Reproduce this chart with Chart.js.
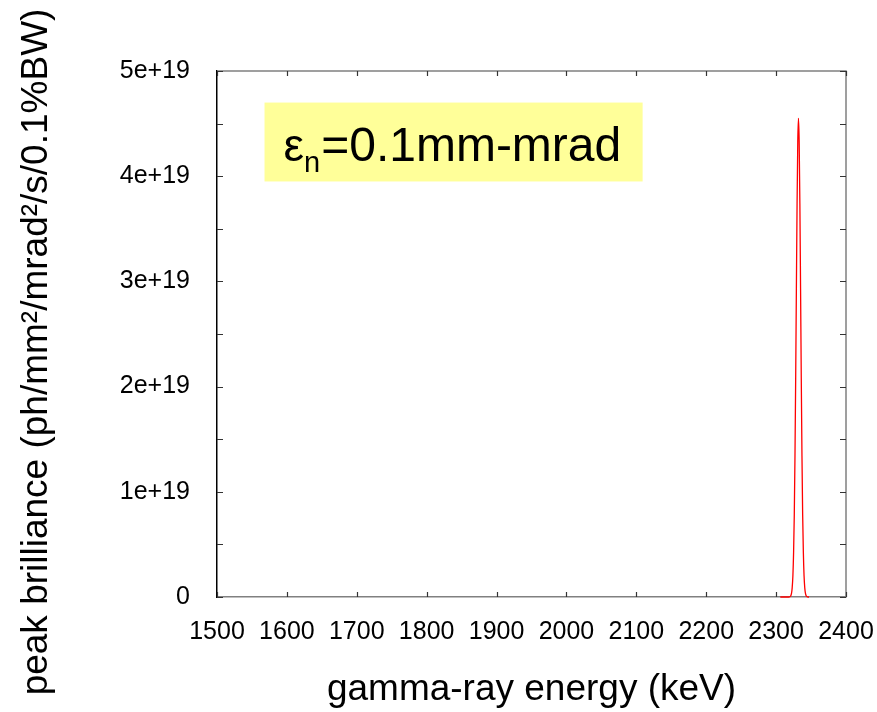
<!DOCTYPE html>
<html>
<head>
<meta charset="utf-8">
<script src="https://cdn.jsdelivr.net/npm/chart.js@4"></script>
<style>
  body { margin: 0; background: #fff; }
  #wrap { width: 877px; height: 712px; }
</style>
</head>
<body>
<div id="wrap"><canvas id="myChart" width="877" height="712"></canvas></div>
<script>
// gamma-ray energy (keV) and peak brilliance
const energy = [
  2306, 2307, 2308, 2309, 2310, 2311, 2312, 2313, 2314, 2315, 2316, 2317, 2318,
  2319, 2320, 2321, 2322, 2323, 2324, 2325, 2326, 2327, 2328, 2329, 2330, 2331,
  2332, 2333, 2334, 2335, 2336, 2337, 2338, 2339, 2340, 2341, 2342, 2343, 2344,
  2345, 2346, 2347
]
const brilliance = [
  0, 0, 0, 0, 0, 0, 0, 0, 0, 0, 0, 0, 0,
  0.001e19, 0.004e19, 0.012e19, 0.034e19, 0.087e19, 0.20e19, 0.42e19, 0.78e19, 1.34e19, 2.08e19, 2.93e19, 3.74e19, 4.33e19,
  4.55e19, 4.33e19, 3.74e19, 2.93e19, 2.08e19, 1.34e19, 0.78e19, 0.42e19, 0.20e19, 0.087e19, 0.034e19, 0.012e19, 0.004e19,
  0.001e19, 0, 0
]
const xTicks = [1500, 1600, 1700, 1800, 1900, 2000, 2100, 2200, 2300, 2400]
const yTicks = [0, 1e19, 2e19, 3e19, 4e19, 5e19]
const yTickLabels = ['0', '1e+19', '2e+19', '3e+19', '4e+19', '5e+19']
const yMinorTicks = [0.5e19, 1.5e19, 2.5e19, 3.5e19, 4.5e19]
const yTitle = 'peak brilliance (ph/mm²/mrad²/s/0.1%BW)'

const FONT = "'Liberation Sans', Arial, sans-serif"

// frame on top/right plus inward tick marks, gnuplot style
const framePlugin = {
  id: 'frame',
  afterDraw (chart) {
    const { ctx, chartArea: a, scales: { x, y } } = chart
    ctx.save()
    ctx.lineWidth = 1.5
    ctx.strokeStyle = '#808080'
    ctx.beginPath()
    ctx.moveTo(a.left, a.top); ctx.lineTo(a.right, a.top); ctx.lineTo(a.right, a.bottom)
    ctx.stroke()
    ctx.strokeStyle = '#333'
    ctx.lineWidth = 1.2
    ctx.beginPath()
    xTicks.forEach(v => {
      const px = Math.round(x.getPixelForValue(v)) + 0.5
      ctx.moveTo(px, a.bottom); ctx.lineTo(px, a.bottom - 5)
      ctx.moveTo(px, a.top); ctx.lineTo(px, a.top + 5)
    })
    yTicks.concat(yMinorTicks).forEach(v => {
      const py = Math.round(y.getPixelForValue(v)) + 0.5
      ctx.moveTo(a.left, py); ctx.lineTo(a.left + 6, py)
      ctx.moveTo(a.right, py); ctx.lineTo(a.right - 6, py)
    })
    ctx.stroke()

    // y title: longer than the axis itself, so centred on the whole canvas
    ctx.fillStyle = '#000'
    ctx.font = '37px ' + FONT
    ctx.textAlign = 'center'
    ctx.textBaseline = 'middle'
    ctx.translate(37, chart.height / 2 - 4)
    ctx.rotate(-Math.PI / 2)
    ctx.fillText(yTitle, 0, 0)
    ctx.restore()
  }
}

// yellow label box, placed in data coordinates
const labelBox = { x0: 1568, x1: 2109, y0: 3.95e19, y1: 4.70e19 }
const labelPlugin = {
  id: 'labelBox',
  afterDatasetsDraw (chart) {
    const { ctx, scales: { x, y } } = chart
    const l = x.getPixelForValue(labelBox.x0)
    const r = x.getPixelForValue(labelBox.x1)
    const t = y.getPixelForValue(labelBox.y1)
    const b = y.getPixelForValue(labelBox.y0)
    ctx.save()
    ctx.fillStyle = '#ffff99'
    ctx.fillRect(l, t, r - l, b - t)
    ctx.fillStyle = '#000'
    ctx.textBaseline = 'alphabetic'
    const base = t + 58
    let cx = l + 19
    ctx.font = '46px ' + FONT
    ctx.fillText('ε', cx, base)
    cx += ctx.measureText('ε').width
    ctx.font = '29px ' + FONT
    ctx.fillText('n', cx, base + 11)
    cx += ctx.measureText('n').width + 1
    ctx.font = '48px ' + FONT
    ctx.fillText('=0.1mm-mrad', cx, base)
    ctx.restore()
  }
}

const ctx = document.getElementById('myChart').getContext('2d')
const myChart = new Chart(ctx, {
  type: 'line',
  data: {
    datasets: [{
      data: energy.map((e, i) => ({ x: e, y: brilliance[i] })),
      borderColor: '#ff0000',
      borderWidth: 1.3,
      backgroundColor: 'transparent',
      pointRadius: 0,
      cubicInterpolationMode: 'monotone',
      clip: 3
    }]
  },
  options: {
    responsive: false,
    animation: false,
    layout: { padding: { top: 71, right: 31, left: 0, bottom: 0 } },
    scales: {
      x: {
        type: 'linear',
        min: 1500,
        max: 2400,
        afterBuildTicks: scale => { scale.ticks = xTicks.map(v => ({ value: v })) },
        afterFit: scale => {
          scale.height = 115
          scale.paddingLeft = 0
          scale.paddingRight = 0
        },
        grid: { display: false, drawTicks: false },
        border: { display: true, color: '#808080', width: 1.5 },
        ticks: {
          color: '#000',
          font: { family: FONT, size: 25 },
          padding: 20,
          maxRotation: 0,
          autoSkip: false,
          callback: v => String(v)
        },
        title: { display: true, text: 'gamma-ray energy (keV)', color: '#000', font: { family: FONT, size: 37 }, padding: { top: 0, bottom: 0 } }
      },
      y: {
        min: 0,
        max: 5e19,
        afterBuildTicks: scale => { scale.ticks = yTicks.map(v => ({ value: v })) },
        afterFit: scale => {
          scale.width = 217
          scale.paddingTop = 0
          scale.paddingBottom = 0
        },
        grid: { display: false, drawTicks: false },
        border: { display: true, color: '#000', width: 1.5 },
        ticks: {
          color: '#000',
          font: { family: FONT, size: 25 },
          padding: 27,
          callback: (v, i) => yTickLabels[i]
        }
      }
    },
    plugins: {
      legend: { display: false },
      tooltip: { enabled: false }
    }
  },
  plugins: [framePlugin, labelPlugin]
})
</script>
</body>
</html>
